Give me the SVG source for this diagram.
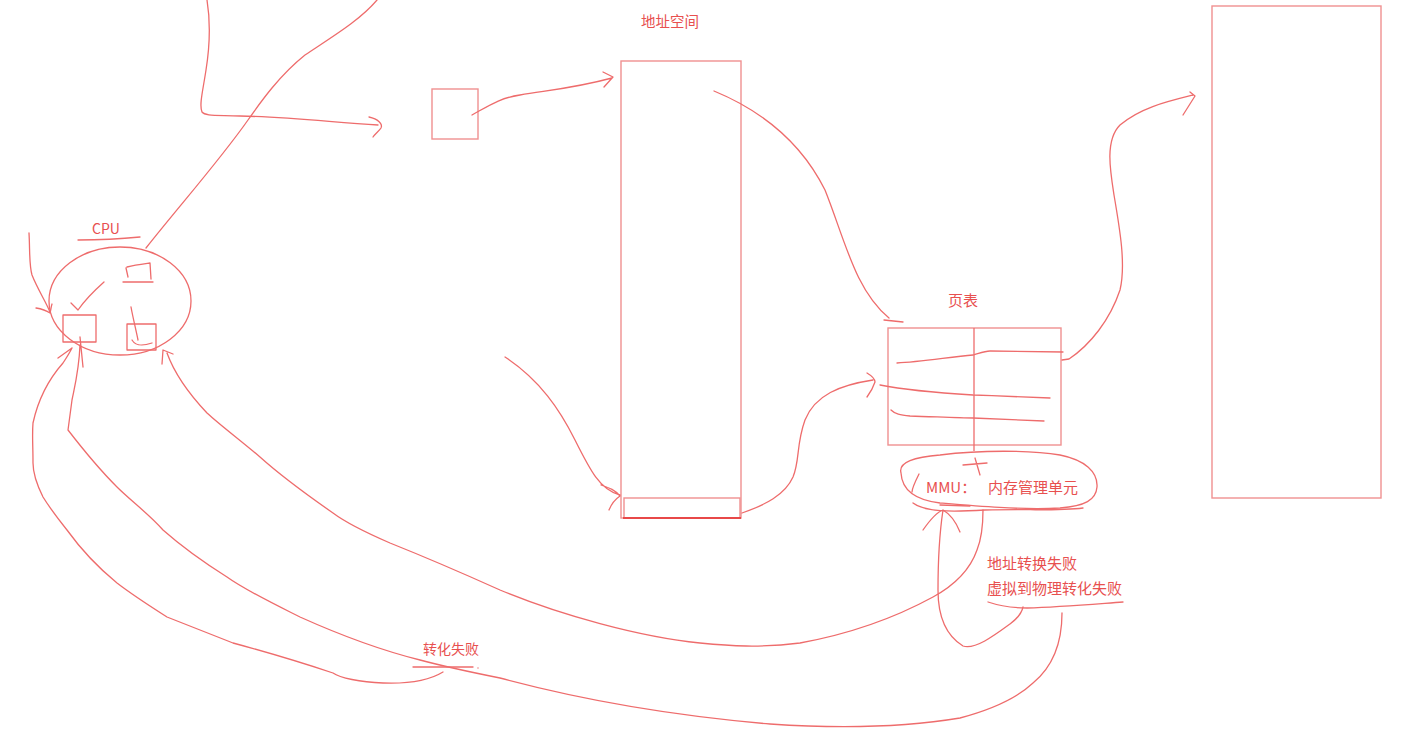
<svg xmlns="http://www.w3.org/2000/svg" width="1415" height="733" viewBox="0 0 1415 733">
<style>
.s{fill:none;stroke:#ee6c6c;stroke-width:1.3;stroke-linecap:round;stroke-linejoin:round}
.b{fill:none;stroke:#f09090;stroke-width:1.4}
.t{font-family:"Noto Sans CJK SC","Noto Sans",sans-serif;fill:#e8504f}
</style>
<rect width="1415" height="733" fill="#ffffff"/>
<g id="addr-space">
<text class="t" x="641" y="27" font-size="14.5">地址空间</text>
<rect class="b" x="621" y="61" width="120" height="457"/>
<rect class="b" x="624" y="498" width="116" height="20"/>
<line x1="623" y1="518" x2="741" y2="518" stroke="#e84848" stroke-width="2"/>
</g>
<g id="small-box">
<rect class="b" x="432" y="89" width="46" height="50"/>
</g>
<g id="cpu">
<text class="t" x="106" y="234" font-size="14" text-anchor="middle">CPU</text>
<path class="s" d="M78,240 C100,240 120,239 140,237"/>
<ellipse class="s" cx="120" cy="301" rx="71" ry="54"/>
<rect class="s" x="63" y="315" width="33" height="27"/>
<rect class="s" x="127" y="324" width="29" height="26"/>
<path class="s" d="M126,268 L128,277 M123,282 L153,282 M127,267 C135,265 143,264 150,263 L151,279"/>
<path class="s" d="M104,282 C95,290 85,300 78,310 M71,303 L78,310"/>
<path class="s" d="M131,307 C133,318 136,330 138,340 M132,340 C135,345 140,347 152,343"/>
</g>
<g id="page-table">
<text class="t" x="948" y="306" font-size="15">页表</text>
<rect class="b" x="888" y="328" width="173" height="117"/>
<line x1="974" y1="328" x2="974" y2="451" stroke="#ee6c6c" stroke-width="1.3"/>
<path class="s" d="M897,363 C920,362 950,357 973,355 C980,353 985,351 990,351 L1063,352"/>
<path class="s" d="M880,385 C905,390 940,393 973,395 C1000,396 1030,397 1050,398"/>
<path class="s" d="M891,410 C895,414 900,415 910,416 C940,417 960,418 973,418 C1000,419 1025,420 1044,421"/>
</g>
<g id="mmu">
<path class="s" d="M901,473 C898,462 915,457 940,455 C980,450 1030,450 1060,455 C1085,460 1098,472 1097,487 C1096,500 1085,506 1060,508 C1020,510 975,506 940,503 C915,500 902,490 901,473"/>
<path class="s" d="M913,503 C925,512 950,512 985,510 C1030,509 1060,511 1083,508"/>
<path class="s" d="M919,474 C915,482 912,488 912,492 M940,505 L970,506 M963,465 L987,463 M975,458 L980,475"/>
<text class="t" font-size="15" y="493"><tspan x="926">MMU：</tspan><tspan x="988">内存管理单元</tspan></text>
</g>
<g id="phys-mem">
<rect class="b" x="1212" y="6" width="169" height="492"/>
</g>
<g id="labels">
<text class="t" x="987" y="569" font-size="15">地址转换失败</text>
<text class="t" x="987" y="594" font-size="15">虚拟到物理转化失败</text>
<path class="s" d="M988,602 C1000,606 1015,608 1027,608 C1060,607 1095,604 1123,602"/>
<text class="t" x="423" y="654" font-size="14">转化失败</text>
<path class="s" d="M413,667 L473,667"/>
<circle cx="478" cy="668" r="0.7" fill="#ee6c6c"/>
</g>
<g id="connectors">
<path class="s" d="M207,0 C211,25 210,45 206,70 C203,90 199,105 202,112 C205,116 215,115 240,116 C290,117 330,122 378,125"/>
<path class="s" d="M369,117 C378,119 383,124 381,128 C379,131 375,134 373,137"/>
<path class="s" d="M377,0 C360,20 335,35 305,55 C280,75 262,100 248,120 C220,160 180,205 146,248"/>
<path class="s" d="M472,115 C490,105 500,98 520,95 C550,90 575,88 612,78 M603,72 L613,77 L604,87"/>
<path class="s" d="M714,91 C760,110 800,140 825,190 C845,240 855,290 889,318 M884,320 L903,322"/>
<path class="s" d="M505,357 C540,380 560,410 575,440 C590,470 600,490 620,495 M601,485 C610,488 615,490 620,496 C614,500 611,505 609,510"/>
<path class="s" d="M742,513 C765,505 785,495 793,477 C800,460 796,445 805,420 C815,395 840,385 873,380 M867,373 C872,376 875,379 875,382 C873,388 870,393 867,397"/>
<path class="s" d="M1062,360 L1069,359 C1090,345 1110,320 1120,290 C1126,265 1120,230 1114,195 C1110,170 1105,140 1120,125 C1140,108 1165,102 1193,95 M1190,92 L1195,96 L1183,115"/>
<path class="s" d="M29,233 C30,250 29,265 32,275 C38,290 45,300 50,312 M36,308 C42,309 47,311 50,313 C51,310 51,307 52,304"/>
<path class="s" d="M943,510 C940,530 938,560 938,590 C938,615 945,635 963,646 C975,650 995,635 1010,624 C1018,618 1022,612 1023,607 M923,530 C930,520 937,512 943,510 C950,514 956,522 960,532"/>
<path class="s" d="M983,510 C983,525 981,540 977,550 C970,570 955,585 933,597 C900,615 860,632 800,643 C760,648 730,646 700,643 C640,637 560,615 500,590 C460,572 420,555 390,543 C360,530 345,522 333,513 C300,490 280,475 260,457 C240,440 220,425 207,413 C190,395 175,375 167,353 M162,364 L163,350 L173,354"/>
<path class="s" d="M1062,613 C1062,640 1055,665 1033,683 C1015,700 990,710 960,718 C900,728 830,728 770,724 C700,718 600,705 500,678 C470,672 450,668 420,660 C380,650 340,635 300,617 C270,602 245,590 227,577 C200,560 180,545 163,530 C150,515 130,500 117,487 C100,470 85,452 68,430 L72,400 C75,385 79,370 80,345 M80,337 L83,367"/>
<path class="s" d="M443,672 C430,680 410,684 383,683 C360,682 340,678 333,673 C300,662 270,653 233,643 C200,630 180,622 167,617 C145,603 130,593 117,583 C95,565 80,548 67,530 C55,515 48,505 43,497 C37,485 33,475 33,463 C33,445 32,435 33,423 C38,400 48,380 63,363 C67,357 70,352 72,348 M58,358 L72,348"/>
</g>
</svg>
